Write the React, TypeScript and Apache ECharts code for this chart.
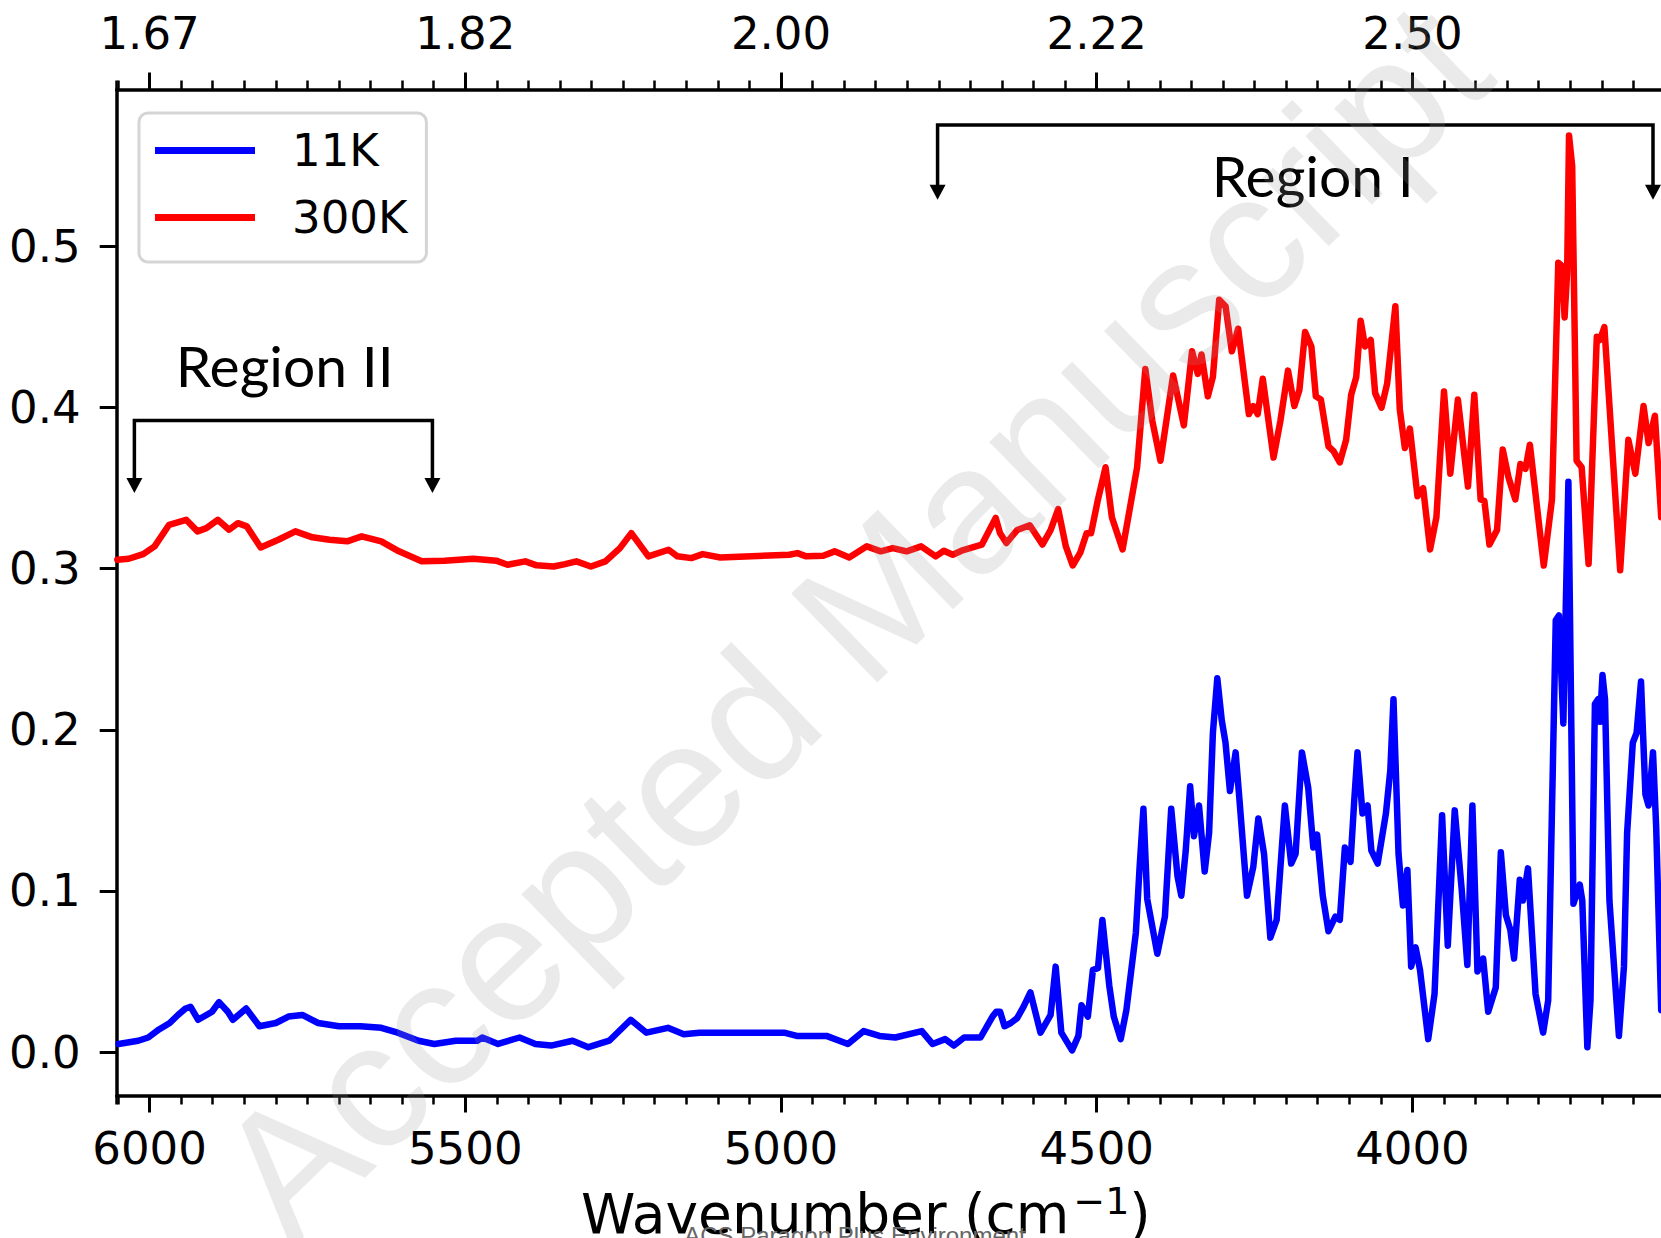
import React, { useEffect, useRef } from 'react';
import * as echarts from 'echarts';

// ---- data (wavenumber in cm^-1, absorbance) ----
const wn300K = [6051, 6033, 6010, 5992, 5969, 5942, 5924, 5910, 5892, 5874, 5860, 5846, 5824, 5796, 5769, 5742, 5715, 5687, 5664, 5633, 5605, 5569, 5533, 5487, 5451, 5433, 5405, 5387, 5360, 5342, 5324, 5301, 5278, 5255, 5237, 5210, 5178, 5164, 5142, 5124, 5096, 4987, 4974, 4960, 4933, 4915, 4892, 4864, 4842, 4823, 4801, 4778, 4755, 4742, 4728, 4714, 4682, 4660, 4653, 4643, 4626, 4606, 4586, 4573, 4561, 4549, 4538, 4526, 4516, 4509, 4498, 4486, 4476, 4459, 4436, 4423, 4412, 4399, 4379, 4362, 4349, 4340, 4334, 4324, 4316, 4306, 4296, 4286, 4276, 4259, 4252, 4245, 4237, 4220, 4209, 4197, 4187, 4179, 4170, 4160, 4153, 4145, 4133, 4125, 4115, 4105, 4097, 4089, 4082, 4075, 4066, 4059, 4049, 4040, 4027, 4020, 4012, 4004, 3992, 3983, 3972, 3962, 3950, 3940, 3928, 3912, 3902, 3892, 3886, 3878, 3866, 3857, 3848, 3837, 3829, 3821, 3814, 3792, 3779, 3769, 3763, 3759, 3755, 3752, 3747, 3740, 3732, 3721, 3708, 3703, 3696, 3671, 3658, 3647, 3634, 3626, 3616, 3606];
const abs300K = [0.3056, 0.3062, 0.3091, 0.3139, 0.3273, 0.3304, 0.3232, 0.3252, 0.3304, 0.3242, 0.3283, 0.3263, 0.3132, 0.318, 0.3232, 0.3195, 0.318, 0.317, 0.3201, 0.317, 0.3108, 0.3046, 0.305, 0.3062, 0.305, 0.3025, 0.3046, 0.3021, 0.3014, 0.3029, 0.3046, 0.3014, 0.3046, 0.3128, 0.3221, 0.3077, 0.3118, 0.3077, 0.3066, 0.3091, 0.307, 0.3087, 0.3097, 0.3077, 0.3081, 0.3108, 0.307, 0.3139, 0.3108, 0.3128, 0.3108, 0.3139, 0.3077, 0.3112, 0.3087, 0.3112, 0.3149, 0.3315, 0.322, 0.316, 0.324, 0.327, 0.315, 0.324, 0.337, 0.314, 0.302, 0.31, 0.322, 0.322, 0.343, 0.363, 0.332, 0.312, 0.363, 0.424, 0.392, 0.367, 0.42, 0.389, 0.435, 0.421, 0.433, 0.407, 0.419, 0.467, 0.463, 0.435, 0.449, 0.396, 0.401, 0.396, 0.418, 0.369, 0.392, 0.423, 0.401, 0.411, 0.447, 0.438, 0.407, 0.405, 0.376, 0.373, 0.366, 0.38, 0.408, 0.419, 0.454, 0.438, 0.442, 0.409, 0.4, 0.415, 0.463, 0.399, 0.375, 0.387, 0.345, 0.35, 0.312, 0.332, 0.41, 0.359, 0.405, 0.351, 0.408, 0.343, 0.342, 0.315, 0.324, 0.374, 0.357, 0.343, 0.365, 0.362, 0.377, 0.302, 0.343, 0.49, 0.488, 0.456, 0.484, 0.569, 0.55, 0.367, 0.363, 0.303, 0.444, 0.442, 0.45, 0.299, 0.38, 0.359, 0.401, 0.378, 0.395, 0.332];

const wn11K = [6049, 6018, 6002, 5985, 5968, 5955, 5943, 5935, 5923, 5901, 5890, 5876, 5868, 5847, 5826, 5800, 5780, 5758, 5733, 5700, 5666, 5633, 5607, 5574, 5549, 5515, 5481, 5473, 5448, 5414, 5389, 5364, 5330, 5305, 5272, 5238, 5213, 5179, 5154, 5129, 5062, 4995, 4975, 4928, 4894, 4869, 4844, 4819, 4777, 4760, 4740, 4726, 4710, 4684, 4665, 4659, 4653, 4646, 4636, 4626, 4616, 4605, 4589, 4573, 4565, 4556, 4539, 4529, 4524, 4514, 4506, 4498, 4491, 4480, 4473, 4462, 4453, 4438, 4432, 4426, 4420, 4412, 4404, 4392, 4382, 4372, 4366, 4359, 4352, 4346, 4338, 4329, 4322, 4316, 4309, 4302, 4296, 4289, 4280, 4274, 4262, 4252, 4244, 4235, 4225, 4215, 4202, 4192, 4185, 4175, 4165, 4157, 4151, 4142, 4133, 4122, 4115, 4107, 4098, 4092, 4087, 4079, 4071, 4065, 4055, 4042, 4035, 4030, 4022, 4015, 4008, 4002, 3995, 3988, 3975, 3965, 3953, 3944, 3933, 3922, 3913, 3905, 3897, 3888, 3880, 3868, 3860, 3852, 3845, 3839, 3830, 3825, 3817, 3805, 3793, 3785, 3773, 3768, 3761, 3753, 3745, 3735, 3731, 3723, 3718, 3711, 3706, 3703, 3699, 3695, 3688, 3673, 3665, 3660, 3651, 3645, 3638, 3631, 3626, 3619, 3614, 3606];
const abs11K = [0.005, 0.007, 0.009, 0.014, 0.018, 0.023, 0.027, 0.028, 0.02, 0.025, 0.031, 0.025, 0.02, 0.027, 0.016, 0.018, 0.022, 0.023, 0.018, 0.016, 0.016, 0.015, 0.012, 0.007, 0.005, 0.007, 0.007, 0.009, 0.005, 0.009, 0.005, 0.004, 0.007, 0.003, 0.007, 0.02, 0.012, 0.015, 0.011, 0.012, 0.012, 0.012, 0.01, 0.01, 0.005, 0.013, 0.01, 0.009, 0.013, 0.005, 0.008, 0.004, 0.009, 0.009, 0.022, 0.025, 0.025, 0.016, 0.018, 0.021, 0.028, 0.037, 0.012, 0.023, 0.053, 0.012, 0.001, 0.01, 0.029, 0.022, 0.051, 0.052, 0.082, 0.041, 0.022, 0.008, 0.026, 0.074, 0.115, 0.151, 0.095, 0.078, 0.061, 0.084, 0.151, 0.109, 0.097, 0.125, 0.165, 0.134, 0.153, 0.112, 0.136, 0.198, 0.232, 0.206, 0.192, 0.162, 0.186, 0.157, 0.097, 0.115, 0.145, 0.123, 0.071, 0.082, 0.153, 0.117, 0.123, 0.186, 0.164, 0.127, 0.135, 0.097, 0.075, 0.084, 0.082, 0.127, 0.118, 0.157, 0.186, 0.148, 0.153, 0.125, 0.117, 0.148, 0.175, 0.219, 0.123, 0.091, 0.113, 0.053, 0.065, 0.051, 0.008, 0.036, 0.147, 0.066, 0.15, 0.101, 0.054, 0.153, 0.05, 0.058, 0.025, 0.04, 0.124, 0.085, 0.076, 0.058, 0.107, 0.094, 0.114, 0.036, 0.012, 0.032, 0.268, 0.271, 0.204, 0.354, 0.092, 0.104, 0.094, 0.003, 0.032, 0.216, 0.219, 0.205, 0.234, 0.219, 0.094, 0.01, 0.053, 0.136, 0.192, 0.198, 0.23, 0.16, 0.153, 0.186, 0.14, 0.026];

const seriesNames = ['11K', '300K'];
const seriesColors = ['#0000ff', '#ff0000'];
const xMajorTicks = [6000, 5500, 5000, 4500, 4000];
const yTicks = [0, 0.1, 0.2, 0.3, 0.4, 0.5];

const regionLabels = ['Region I', 'Region II'];
const regionFrom = [4752, 6024];
const regionTo = [3619, 5552];
const regionBarY = [0.5754, 0.392];
const regionTipY = [0.529, 0.347];
const regionTextX = [4158, 5786];
const regionTextY = [0.5445, 0.4265];

const FONT = 'DejaVu Sans';
const X_MIN = 3600;
const X_MAX = 6052;

export default function App() {
  const ref = useRef<HTMLDivElement>(null);

  useEffect(() => {
    const chart = echarts.init(ref.current!, null, { renderer: 'svg' });

    const xBase = {
      type: 'value' as const,
      min: X_MIN,
      max: X_MAX,
      inverse: true,
      gridIndex: 0,
      splitLine: { show: false },
    };
    const minorAxis = (position: 'top' | 'bottom') => ({
      ...xBase,
      position,
      interval: 50,
      axisLine: { show: true, onZero: false, lineStyle: { color: '#000', width: 3.5 } },
      axisTick: { show: true, length: 9, lineStyle: { color: '#000', width: 2.5 } },
      axisLabel: { show: false },
    });
    const majorAxis = (position: 'top' | 'bottom', fmt: (v: number) => string, margin: number) => ({
      ...xBase,
      position,
      axisLine: { show: false, onZero: false },
      axisTick: { show: true, customValues: xMajorTicks, length: 17, lineStyle: { color: '#000', width: 3 } },
      axisLabel: {
        show: true,
        customValues: xMajorTicks,
        formatter: fmt,
        margin,
        fontSize: 45,
        fontFamily: FONT,
        color: '#000',
      },
    });

    const bottomMajor: any = majorAxis('bottom', (v: number) => String(v), 30);
    bottomMajor.name = '{m|Wavenumber (cm}{s|\u22121}{m|)}';
    bottomMajor.nameLocation = 'middle';
    bottomMajor.nameGap = 86;
    bottomMajor.nameMoveOverlap = false;
    bottomMajor.nameTextStyle = {
      fontFamily: FONT,
      fontSize: 55,
      color: '#000',
      padding: [0, 50, 0, 0],
      rich: {
        m: { fontFamily: FONT, fontSize: 55, color: '#000' },
        s: { fontFamily: FONT, fontSize: 38, color: '#000', verticalAlign: 'top', padding: [0, 0, 26, 4] },
      },
    };

    chart.setOption({
      animation: false,
      backgroundColor: '#ffffff',
      grid: {
        left: 116.7,
        top: 89.5,
        right: 1661 - 1665,
        bottom: 1238 - 1095.5,
        containLabel: false,
        outerBoundsMode: 'none',
      },
      legend: {
        data: seriesNames,
        orient: 'vertical',
        left: 139,
        top: 113,
        icon: 'rect',
        itemWidth: 100,
        itemHeight: 7,
        itemGap: 22,
        padding: [15, 19, 22, 16],
        borderColor: '#d5d5d5',
        borderWidth: 3,
        borderRadius: 9,
        backgroundColor: '#ffffff',
        selectedMode: false,
        textStyle: { fontFamily: FONT, fontSize: 45, color: '#000', padding: [0, 0, 0, 32] },
      },
      xAxis: [
        minorAxis('bottom'),
        bottomMajor,
        minorAxis('top'),
        majorAxis('top', (v: number) => (10000 / v).toFixed(2), 34),
      ],
      yAxis: {
        type: 'value',
        min: -0.027,
        max: 0.5975,
        splitLine: { show: false },
        axisLine: { show: true, onZero: false, lineStyle: { color: '#000', width: 3.5 } },
        axisTick: { show: true, customValues: yTicks, length: 17, lineStyle: { color: '#000', width: 3 } },
        axisLabel: {
          customValues: yTicks,
          formatter: (v: number) => v.toFixed(1),
          margin: 36,
          fontSize: 45,
          fontFamily: FONT,
          color: '#000',
        },
      },
      series: [
        {
          type: 'line',
          name: seriesNames[0],
          xAxisIndex: 0,
          yAxisIndex: 0,
          data: wn11K.map((w, i) => [w, abs11K[i]]),
          showSymbol: false,
          symbol: 'none',
          color: seriesColors[0],
          lineStyle: { color: seriesColors[0], width: 6.5, join: 'round', cap: 'round' },
          z: 2,
        },
        {
          type: 'line',
          name: seriesNames[1],
          xAxisIndex: 0,
          yAxisIndex: 0,
          data: wn300K.map((w, i) => [w, abs300K[i]]),
          showSymbol: false,
          symbol: 'none',
          color: seriesColors[1],
          lineStyle: { color: seriesColors[1], width: 6.5, join: 'round', cap: 'round' },
          z: 3,
        },
      ],
    });

    const P = (x: number, y: number) =>
      chart.convertToPixel({ xAxisIndex: 0, yAxisIndex: 0 }, [x, y]) as number[];

    const graphics: any[] = [];
    regionLabels.forEach((label, i) => {
      const [x1, yb] = P(regionFrom[i], regionBarY[i]);
      const [x2] = P(regionTo[i], regionBarY[i]);
      const [, yt] = P(regionFrom[i], regionTipY[i]);
      const head = 15;
      graphics.push({
        type: 'polyline',
        shape: { points: [[x1, yt - head + 1], [x1, yb], [x2, yb], [x2, yt - head + 1]] },
        style: { stroke: '#000', lineWidth: 3.5, fill: 'none' },
        z: 10,
      });
      [x1, x2].forEach((xx) => {
        graphics.push({
          type: 'polygon',
          shape: { points: [[xx - 8, yt - head], [xx + 8, yt - head], [xx, yt]] },
          style: { fill: '#000' },
          z: 10,
        });
      });
      const [tx, ty] = P(regionTextX[i], regionTextY[i]);
      graphics.push({
        type: 'text',
        x: tx,
        y: ty,
        style: {
          text: label,
          fontFamily: 'Lato',
          fontSize: 57,
          fill: '#000',
          align: 'center',
          verticalAlign: 'middle',
        },
        z: 10,
      });
    });

    graphics.push({
      type: 'text',
      x: 852,
      y: 620,
      rotation: (44 * Math.PI) / 180,
      silent: true,
      style: {
        text: 'Accepted Manuscript',
        fontFamily: 'Liberation Sans',
        fontSize: 180,
        fill: 'rgba(150,150,150,0.2)',
        align: 'center',
        verticalAlign: 'middle',
      },
      z: 100,
    });
    graphics.push({
      type: 'text',
      x: 855,
      y: 1235,
      silent: true,
      style: {
        text: 'ACS Paragon Plus Environment',
        fontFamily: 'Liberation Sans',
        fontSize: 24,
        fill: '#666666',
        align: 'center',
        verticalAlign: 'middle',
      },
      z: 100,
    });

    chart.setOption({ graphic: graphics });

    return () => chart.dispose();
  }, []);

  return (
    <div
      ref={ref}
      style={{ position: 'fixed', left: 0, top: 0, width: 1661, height: 1238, background: '#fff' }}
    />
  );
}
